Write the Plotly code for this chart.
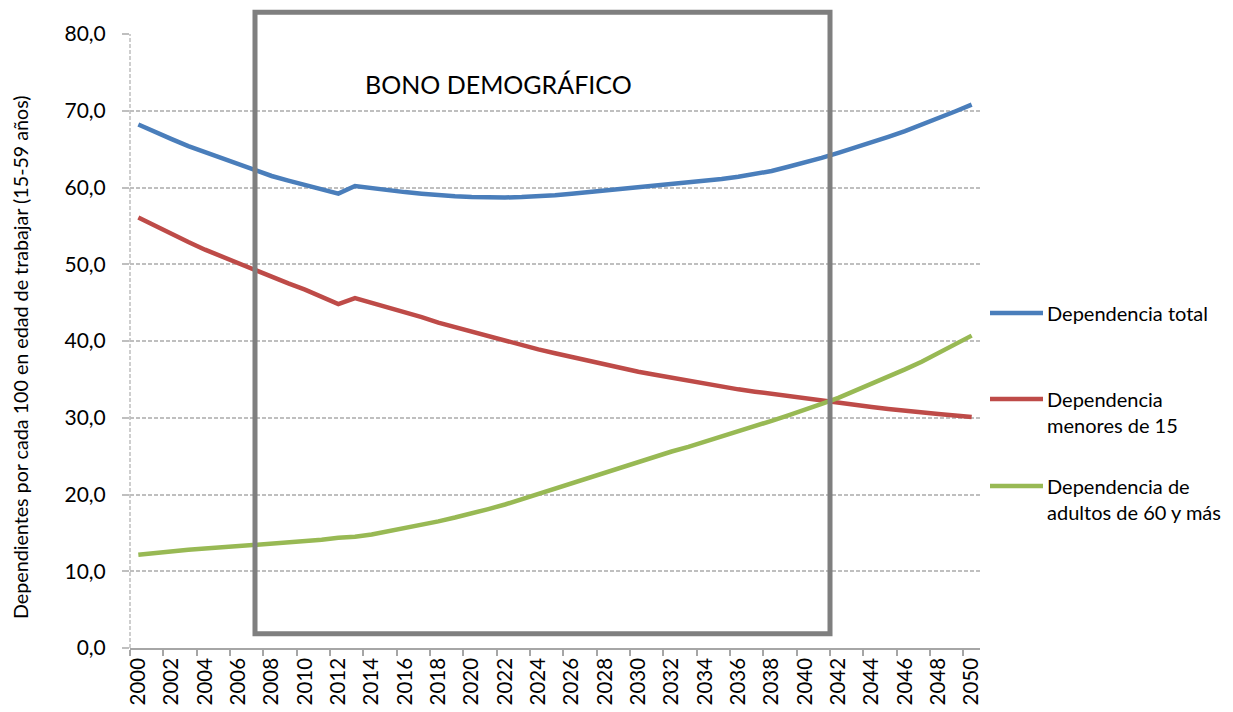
import plotly.graph_objects as go

years = list(range(2000, 2051))

dep_total = [68.2, 67.2, 66.3, 65.4, 64.6, 63.8, 63.0, 62.2, 61.5, 60.9,
             60.3, 59.8, 59.2, 60.2, 59.9, 59.6, 59.4, 59.2, 59.0, 58.85,
             58.75, 58.7, 58.7, 58.75, 58.85, 59.0, 59.2, 59.4, 59.6, 59.8,
             60.0, 60.2, 60.4, 60.6, 60.85, 61.1, 61.4, 61.75, 62.15, 62.7,
             63.25, 63.85, 64.5, 65.15, 65.85, 66.6, 67.35, 68.15, 69.0, 69.9,
             70.8]
dep_menores = [56.1, 55.0, 53.9, 52.9, 51.9, 51.0, 50.1, 49.3, 48.4, 47.5,
               46.7, 45.8, 44.8, 45.6, 45.0, 44.3, 43.7, 43.1, 42.4, 41.8,
               41.2, 40.6, 40.0, 39.4, 38.9, 38.4, 37.9, 37.4, 36.95, 36.45,
               36.0, 35.6, 35.2, 34.8, 34.4, 34.05, 33.7, 33.4, 33.1, 32.8,
               32.5, 32.2, 31.9, 31.65, 31.4, 31.15, 30.9, 30.7, 30.5, 30.3,
               30.1]
dep_adultos = [12.15, 12.4, 12.6, 12.8, 12.95, 13.1, 13.25, 13.4, 13.55, 13.7,
               13.9, 14.1, 14.35, 14.5, 14.8, 15.2, 15.6, 16.0, 16.5, 17.0,
               17.5, 18.1, 18.7, 19.4, 20.1, 20.8, 21.5, 22.2, 22.9, 23.6,
               24.3, 25.0, 25.6, 26.2, 26.85, 27.5, 28.2, 28.9, 29.6, 30.3,
               31.0, 31.8, 32.6, 33.5, 34.4, 35.3, 36.3, 37.3, 38.4, 39.5,
               40.7]

series_names = ["Dependencia total", "Dependencia<br>menores de 15",
                "Dependencia de<br>adultos de 60 y más"]
series_values = [dep_total, dep_menores, dep_adultos]
series_colors = ["#4A7EBB", "#BE4B48", "#98B954"]

x_tick_labels = [str(y) for y in range(2000, 2051, 2)]
y_tick_vals = [0, 10, 20, 30, 40, 50, 60, 70, 80]

y_title = "Dependientes por cada 100 en edad de trabajar (15-59 años)"
box_label = "BONO DEMOGRÁFICO"
box_years = [2007.0, 2041.5]
box_levels = [1.86, 82.85]

FONT = "Lato"
X_RANGE = [1999.5, 2050.5]
Y_RANGE = [0, 80]

# the page body has an 8px margin; work in page pixels and shift
OFF = 8
W, H = 1233 - OFF, 712 - OFF
L, R, T, B = 130 - OFF, 980 - OFF, 34 - OFF, 648 - OFF


def px_x(px):
    return (px - OFF - L) / (R - L)


def px_y(py):
    return (B - (py - OFF)) / (B - T)


fig = go.Figure()
for name, vals, col in zip(series_names, series_values, series_colors):
    fig.add_trace(go.Scatter(x=years, y=vals, mode="lines", name=name,
                             line=dict(color=col, width=4.5, shape="linear"),
                             showlegend=False))

shapes = []
# dashed left axis line
shapes.append(dict(type="line", xref="paper", yref="paper", x0=0, x1=0, y0=0, y1=1,
                   line=dict(color="#BFBFBF", width=1.5, dash="4px,2px"), layer="below"))

# bono demografico box (paper coords derived from axis ranges)
bx0 = (box_years[0] - X_RANGE[0]) / (X_RANGE[1] - X_RANGE[0])
bx1 = (box_years[1] - X_RANGE[0]) / (X_RANGE[1] - X_RANGE[0])
by0 = (box_levels[0] - Y_RANGE[0]) / (Y_RANGE[1] - Y_RANGE[0])
by1 = (box_levels[1] - Y_RANGE[0]) / (Y_RANGE[1] - Y_RANGE[0])
shapes.append(dict(type="rect", xref="paper", yref="paper", x0=bx0, x1=bx1, y0=by0, y1=by1,
                   line=dict(color="#7F7F7F", width=5), fillcolor="rgba(0,0,0,0)"))

annotations = []
# legend (manual)
legend_line_y = [313, 399, 486]
legend_text_center = [313, 412.5, 499]
for name, col, ly, ty in zip(series_names, series_colors, legend_line_y, legend_text_center):
    shapes.append(dict(type="line", xref="paper", yref="paper",
                       x0=px_x(990), x1=px_x(1043), y0=px_y(ly), y1=px_y(ly),
                       line=dict(color=col, width=4.5)))
    annotations.append(dict(xref="paper", yref="paper", x=px_x(1045), y=px_y(ty),
                            xanchor="left", yanchor="middle", align="left",
                            text=name, showarrow=False,
                            font=dict(family=FONT, size=20, color="#000000")))

annotations.append(dict(xref="x", yref="y", x=2021.6, y=73.5, text=box_label,
                        showarrow=False, xanchor="center", yanchor="middle",
                        font=dict(family=FONT, size=25, color="#000000")))
annotations.append(dict(xref="paper", yref="paper", x=px_x(20), y=px_y(357), text=y_title,
                        textangle=-90, showarrow=False, xanchor="center", yanchor="middle",
                        font=dict(family=FONT, size=19.7, color="#000000")))

fig.update_layout(
    width=W, height=H,
    margin=dict(l=L, r=W - R, t=T, b=H - B, pad=0, autoexpand=False),
    paper_bgcolor="white", plot_bgcolor="white",
    separators=",.",
    font=dict(family=FONT, size=20, color="#000000"),
    shapes=shapes, annotations=annotations,
    showlegend=False,
)
fig.update_xaxes(
    range=X_RANGE, tickmode="array", automargin=False,
    tickvals=list(range(2000, 2051, 2)), ticktext=x_tick_labels,
    tickangle=-90, ticks="", showgrid=False, zeroline=False,
    showline=True, linecolor="#A6A6A6", linewidth=1.5,
    tickfont=dict(family=FONT, size=20.5, color="#000000"),
    minor=dict(tickmode="array", tickvals=[1999.5 + 2 * i for i in range(26)],
               ticks="outside", ticklen=6, tickcolor="#A6A6A6", tickwidth=1.5,
               showgrid=False),
)
fig.update_yaxes(
    range=Y_RANGE, tickmode="array", tickvals=y_tick_vals, tickformat=".1f",
    automargin=False,
    ticks="outside", ticklen=7, tickcolor="#BFBFBF", tickwidth=1.5,
    showgrid=True, gridcolor="#BFBFBF", gridwidth=1.5, griddash="4px,2px",
    zeroline=False, showline=False, ticklabelstandoff=12,
    tickfont=dict(family=FONT, size=21, color="#000000"),
)

fig.write_html("out.html")
